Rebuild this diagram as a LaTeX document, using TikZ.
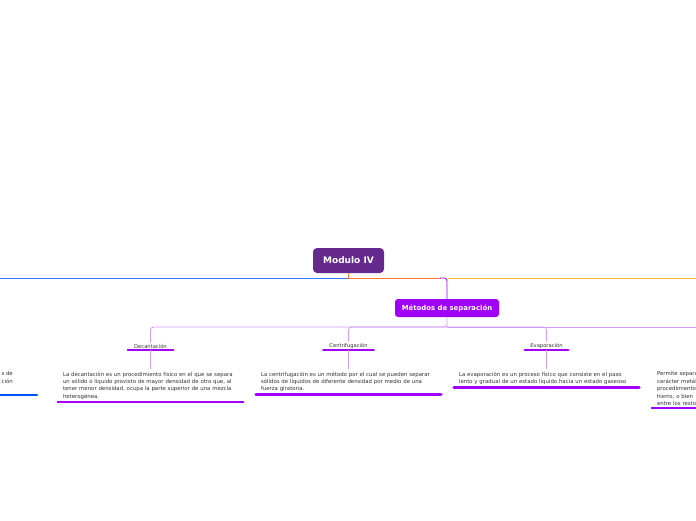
\documentclass[tikz,border=0pt]{standalone}
\usepackage{fontspec}
\setmainfont{DejaVu Sans}
\begin{document}
\begin{tikzpicture}[x=1pt,y=-1pt,
  root/.style={fill=rootc, rounded corners=4pt, text=white, font=\bfseries\fontsize{9}{10}\selectfont, minimum width=71pt, minimum height=25pt, inner sep=0pt},
  main/.style={fill=mainc, rounded corners=3pt, text=white, font=\bfseries\fontsize{6.9}{8}\selectfont, minimum width=104pt, minimum height=18pt, inner sep=0pt},
  lab/.style={text=txtc, font=\fontsize{5.2}{6}\selectfont, inner xsep=0pt, inner ysep=1.5pt, anchor=south},
  body/.style={text=txtc, font=\fontsize{5.4}{7.4}\selectfont, text width=175pt, inner xsep=5pt, inner ysep=2.5pt, align=left, anchor=north},
  bar/.style={line width=2.6pt, line cap=round},
  thin/.style={line width=0.8pt},
]
\definecolor{rootc}{HTML}{662A8F}
\definecolor{mainc}{HTML}{A000F5}
\definecolor{barc}{HTML}{A100FF}
\definecolor{lightc}{HTML}{D29BF7}
\definecolor{bluec}{HTML}{2F78FF}
\definecolor{bluebar}{HTML}{0050FF}
\definecolor{orangec}{HTML}{FF7A30}
\definecolor{yellowc}{HTML}{FFB43C}
\definecolor{txtc}{HTML}{333333}
\useasboundingbox (0,0) rectangle (696,520);
\clip (0,0) rectangle (696,520);
\fill[white] (0,0) rectangle (696,520);

% nodes
\node[root] (mod) at (348.5,260.5) {Modulo IV};
\node[main] (met) at (447,308) {Métodos de separación};

\coordinate (bl) at (0,278);
\coordinate (yr) at (696,278);
\coordinate (lr) at (696,327);

% main branches
\draw[thin, bluec] (mod.south) |- (bl);
\draw[thin, orangec] (mod.south) |- (441,278);
\draw[thin, mainc, rounded corners=3pt] (440,278) -| (met.north);
\draw[thin, yellowc] (448,278) -- (yr);

% sub labels
\node[lab, minimum width=45pt] (dec) at (150.5,350) {Decantación};
\node[lab, minimum width=50pt] (cen) at (348.5,350) {Centrifugación};
\node[lab, minimum width=43pt] (eva) at (546.5,350) {Evaporación};
\draw[bar, barc] (dec.south west) -- (dec.south east);
\draw[bar, barc] (cen.south west) -- (cen.south east);
\draw[bar, barc] (eva.south west) -- (eva.south east);

\draw[thin, lightc, rounded corners=3pt] (met.south) -- (447,327) -| (dec.north);
\draw[thin, lightc, rounded corners=3pt] (447,327) -| (cen.north);
\draw[thin, lightc, rounded corners=3pt] (447,327) -| (eva.north);
\draw[thin, lightc] (447,327) -- (lr);

% body texts
\node[body] (tdec) at (150.5,369) {La decantación es un procedimiento físico en el que se separa\\un sólido o líquido provisto de mayor densidad de otro que, al\\tener menor densidad, ocupa la parte superior de una mezcla\\heterogénea.};
\node[body] (tcen) at (348.5,369) {La centrifugación es un método por el cual se pueden separar\\sólidos de líquidos de diferente densidad por medio de una\\fuerza giratoria.};
\node[body] (teva) at (546.5,369) {La evaporación es un proceso físico que consiste en el paso\\lento y gradual de un estado líquido hacia un estado gaseoso};
\node[body] (tper) at (744.5,369) {Permite separar\\carácter metálico\\procedimiento\\hierro, o bien\\entre los restos};
\node[text=txtc, font=\fontsize{5.4}{7.4}\selectfont, align=right, anchor=north east, inner xsep=0pt, inner ysep=2.5pt] (tleft) at (13,369) {s de\\ción};

\draw[bar, barc] (tdec.south west) -- (tdec.south east);
\draw[bar, barc] (tcen.south west) -- (tcen.south east);
\draw[bar, barc] (teva.south west) -- (teva.south east);
\draw[bar, barc] (tper.south west) -- (tper.south east);
\draw[bar, bluebar] (-40,395) -- (37,395);

\draw[thin, lightc] (dec.south) -- (tdec.north);
\draw[thin, lightc] (cen.south) -- (tcen.north);
\draw[thin, lightc] (eva.south) -- (teva.north);
\end{tikzpicture}
\end{document}
